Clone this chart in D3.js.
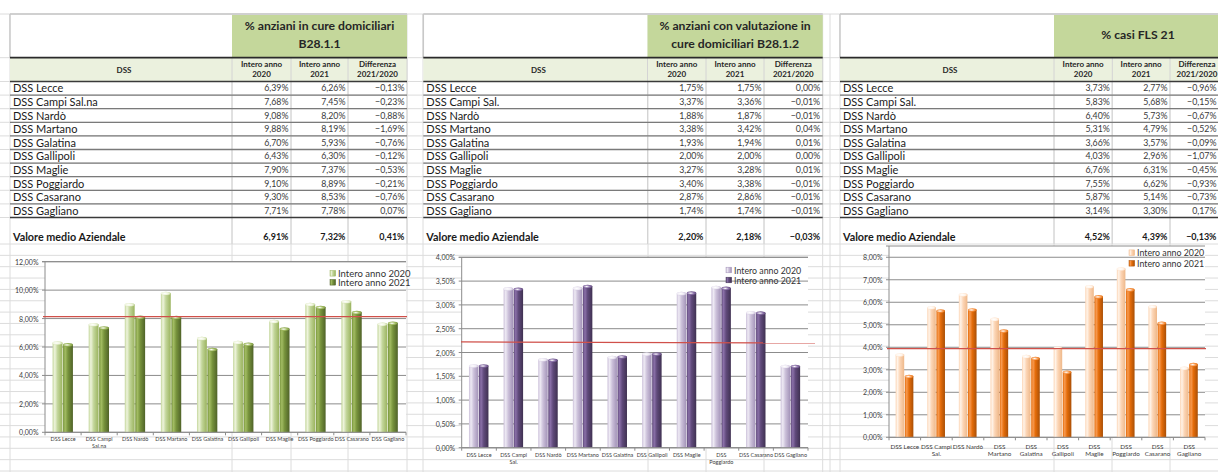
<!DOCTYPE html>
<html><head><meta charset="utf-8">
<script src="https://cdn.jsdelivr.net/npm/d3@7"></script>
<style>body{margin:0;background:#fff} svg{display:block;font-family:Lato,"Liberation Sans",sans-serif}</style>
</head><body><svg id="c" width="1218" height="472"></svg>
<script>
// ---------- DATA ----------
const categories1 = ["DSS Lecce","DSS Campi Sal.na","DSS Nardò","DSS Martano","DSS Galatina","DSS Gallipoli","DSS Maglie","DSS Poggiardo","DSS Casarano","DSS Gagliano"];
const categories2 = ["DSS Lecce","DSS Campi Sal.","DSS Nardò","DSS Martano","DSS Galatina","DSS Gallipoli","DSS Maglie","DSS Poggiardo","DSS Casarano","DSS Gagliano"];
const categories3 = categories2.slice();

const titles1 = ["% anziani in cure domiciliari","B28.1.1"];
const titles2 = ["% anziani con valutazione in","cure domiciliari B28.1.2"];
const titles3 = ["% casi FLS 21"];

const colHeaders = [["Intero anno","2020"],["Intero anno","2021"],["Differenza","2021/2020"]];
const seriesNames = ["Intero anno 2020","Intero anno 2021"];
const avgLabel = "Valore medio Aziendale";

const t1_2020 = [6.39,7.68,9.08,9.88,6.70,6.43,7.90,9.10,9.30,7.71];
const t1_2021 = [6.26,7.45,8.20,8.19,5.93,6.30,7.37,8.89,8.53,7.78];
const t1_diff = [-0.13,-0.23,-0.88,-1.69,-0.76,-0.12,-0.53,-0.21,-0.76,0.07];
const t1_avg  = [6.91,7.32,0.41];

const t2_2020 = [1.75,3.37,1.88,3.38,1.93,2.00,3.27,3.40,2.87,1.74];
const t2_2021 = [1.75,3.36,1.87,3.42,1.94,2.00,3.28,3.38,2.86,1.74];
const t2_diff = [0.00,-0.01,-0.01,0.04,0.01,0.00,0.01,-0.01,-0.01,-0.01];
const t2_avg  = [2.20,2.18,-0.03];

const t3_2020 = [3.73,5.83,6.40,5.31,3.66,4.03,6.76,7.55,5.87,3.14];
const t3_2021 = [2.77,5.68,5.73,4.79,3.57,2.96,6.31,6.62,5.14,3.30];
const t3_diff = [-0.96,-0.15,-0.67,-0.52,-0.09,-1.07,-0.45,-0.93,-0.73,0.17];
const t3_avg  = [4.52,4.39,-0.13];

const yTicks1 = [0,2,4,6,8,10,12];
const yTicks2 = [0,0.5,1,1.5,2,2.5,3,3.5,4];
const yTicks3 = [0,1,2,3,4,5,6,7,8];

const xLabels1 = [["DSS Lecce"],["DSS Campi","Sal.na"],["DSS Nardò"],["DSS Martano"],["DSS Galatina"],["DSS Gallipoli"],["DSS Maglie"],["DSS Poggiardo"],["DSS Casarano"],["DSS Gagliano"]];
const xLabels2 = [["DSS Lecce"],["DSS Campi","Sal."],["DSS Nardò"],["DSS Martano"],["DSS Galatina"],["DSS Gallipoli"],["DSS Maglie"],["DSS","Poggiardo"],["DSS Casarano"],["DSS Gagliano"]];
const xLabels3 = [["DSS Lecce"],["DSS Campi","Sal."],["DSS Nardò"],["DSS","Martano"],["DSS","Galatina"],["DSS","Gallipoli"],["DSS","Maglie"],["DSS","Poggiardo"],["DSS","Casarano"],["DSS","Gagliano"]];

const refLine1 = [8.14, 8.14];
const refLine2 = [2.222, 2.201];
const refLine3 = [3.94, 3.94];

// ---------- STYLE / LAYOUT ----------
const palettes = {
  green:  [{hi:"#eef4dc",base:"#c3d69b",dark:"#9ab35e"},{hi:"#a2bc62",base:"#77933c",dark:"#4f6228"}],
  purple: [{hi:"#eeeaf4",base:"#ccc1da",dark:"#a393b8"},{hi:"#8a70a8",base:"#604a7b",dark:"#3f3151"}],
  orange: [{hi:"#fff3e8",base:"#fcd5b5",dark:"#eeb88a"},{hi:"#f89a50",base:"#e46c0a",dark:"#a94f06"}]
};

const fmt = v => d3.format(".2f")(v).replace("-0.00","0.00").replace(".",",") + "%";
const fmtTick = v => d3.format(".2f")(v).replace(".",",") + "%";

const svg = d3.select("#c");
const defs = svg.append("defs");
svg.append("rect").attr("width",1218).attr("height",472).attr("fill","#fff");

// spreadsheet background grid
const rowTop = 81.5, rowH = 13.6;
const gridH = [14, 57.7];
for (let k=0;k<=10;k++) gridH.push(rowTop+rowH*k);
for (let y=244; y<472; y+=11.35) gridH.push(y);
const gridV = [10,232,291,348,407,423,648,706,764,822.7,830,840,1054,1112,1170];
svg.append("g").selectAll("line").data(gridH).join("line")
  .attr("x1",0).attr("x2",1218).attr("y1",d=>d).attr("y2",d=>d)
  .attr("stroke","#dcdcdc").attr("stroke-width",1);
svg.append("g").selectAll("line").data(gridV).join("line")
  .attr("x1",d=>d).attr("x2",d=>d).attr("y1",14).attr("y2",472)
  .attr("stroke","#dcdcdc").attr("stroke-width",1);

const panels = [
  {left:10, cols:[232,291,348,407], titles:titles1, titleY:[25,43], cats:categories1,
   v20:t1_2020, v21:t1_2021, diff:t1_diff, avg:t1_avg, pal:palettes.green,
   chart:{x0:45,x1:406,top:261.7,bottom:432.3,max:12,ticks:yTicks1,xl:xLabels1,ref:refLine1,refX:[43,407],
          legX:330,legY:[273.3,282.3],legFs:9.5,labY:439,xFs:5.5,labGap:7}},
  {left:423.3, cols:[647.5,706,764,822.7], titles:titles2, titleY:[25,43], cats:categories2,
   v20:t2_2020, v21:t2_2021, diff:t2_diff, avg:t2_avg, pal:palettes.purple,
   chart:{x0:461.7,x1:808,top:257.3,bottom:447.7,max:4,ticks:yTicks2,xl:xLabels2,ref:refLine2,refX:[461,815],
          legX:726,legY:[270,280],legFs:8.8,labY:455,xFs:5.5,labGap:7.3}},
  {left:840, cols:[1054,1112.3,1170,1228], titles:titles3, titleY:[34], cats:categories3,
   v20:t3_2020, v21:t3_2021, diff:t3_diff, avg:t3_avg, pal:palettes.orange,
   chart:{x0:889,x1:1205,top:246,bottom:437.3,max:8.5,ticks:yTicks3,xl:xLabels3,ref:refLine3,refX:[887,1206],
          legX:1129,legY:[252.7,263.3],legFs:8.8,labY:445.7,xFs:6.3,labGap:7.6}}
];

panels.forEach((p,pi)=>{
  const g = svg.append("g");
  const L = p.left, C = p.cols, R = C[3];
  const valRight = ci => Math.min(C[ci+1]-2.5, 1216.5);
  // header box
  g.append("rect").attr("x",L).attr("y",14).attr("width",C[0]-L).attr("height",43.7).attr("fill","#fff");
  g.append("rect").attr("x",C[0]).attr("y",15).attr("width",R-C[0]).attr("height",42.7).attr("fill","#c4d79b");
  g.append("line").attr("x1",L).attr("x2",R).attr("y1",14).attr("y2",14).attr("stroke","#d0d0d0").attr("stroke-width",2);
  g.append("line").attr("x1",L).attr("x2",L).attr("y1",14).attr("y2",58).attr("stroke","#c8c8c8").attr("stroke-width",1.5);
  const cx = (C[0]+R)/2 - (pi===2?3:0);
  g.selectAll("text.tt").data(p.titles).join("text").attr("class","tt")
    .attr("x",cx).attr("y",(d,i)=>p.titleY[i]).attr("text-anchor","middle").attr("dominant-baseline","central")
    .attr("font-size",12.2).attr("font-weight","bold").attr("fill","#262626").text(d=>d);
  // header row
  g.append("rect").attr("x",L).attr("y",57.7).attr("width",R-L).attr("height",rowTop-57.7).attr("fill","#ebf1de");
  g.append("text").attr("x",(L+C[0])/2+3).attr("y",69.5).attr("text-anchor","middle").attr("dominant-baseline","central")
    .attr("font-size",8).attr("font-weight","bold").attr("fill","#262626").text("DSS");
  colHeaders.forEach((h,ci)=>{
    const mx = Math.min((C[ci]+C[ci+1])/2, 1197);
    h.forEach((t,li)=>{
      g.append("text").attr("x",mx).attr("y",64+li*10.2).attr("text-anchor","middle").attr("dominant-baseline","central")
        .attr("font-size",8).attr("font-weight","bold").attr("fill","#262626").text(t);
    });
  });
  // column separators in data region
  [C[0],C[1],C[2],C[3]].forEach(x=>{
    g.append("line").attr("x1",x).attr("x2",x).attr("y1",57.7).attr("y2",244).attr("stroke","#d4d4d4");
  });
  // row separators
  for (let k=0;k<=10;k++){
    const dark = (k===0||k===10);
    g.append("line").attr("x1",L).attr("x2",R).attr("y1",rowTop+rowH*k).attr("y2",rowTop+rowH*k)
      .attr("stroke",dark?"#3a3a3a":"#7a7a7a").attr("stroke-width",dark?1.6:1.3);
  }
  g.append("line").attr("x1",L).attr("x2",R).attr("y1",57.7).attr("y2",57.7).attr("stroke","#2a2a2a").attr("stroke-width",1.8);
  // data rows
  p.cats.forEach((c,i)=>{
    const y = rowTop + rowH*i + 6.3;
    g.append("text").attr("x",L+3).attr("y",y).attr("dominant-baseline","central")
      .attr("font-size",11).attr("fill","#1a1a1a").text(c);
    [p.v20[i],p.v21[i],p.diff[i]].forEach((v,ci)=>{
      g.append("text").attr("x",valRight(ci)).attr("y",y).attr("text-anchor","end").attr("dominant-baseline","central")
        .attr("font-size",8.8).attr("fill","#3a3a3a").text(fmt(v));
    });
  });
  // average row
  g.append("text").attr("x",L+3).attr("y",236).attr("dominant-baseline","central")
    .attr("font-size",10.8).attr("font-weight","bold").attr("fill","#1a1a1a").text(avgLabel);
  p.avg.forEach((v,ci)=>{
    g.append("text").attr("x",valRight(ci)).attr("y",236).attr("text-anchor","end").attr("dominant-baseline","central")
      .attr("font-size",9).attr("font-weight","bold").attr("fill","#1a1a1a").text(fmt(v));
  });

  // ---------- CHART ----------
  const ch = p.chart;
  const y = d3.scaleLinear().domain([0,ch.max]).range([ch.bottom,ch.top]);
  const x = d3.scaleBand().domain(p.cats).range([ch.x0,ch.x1]).paddingInner(0.42).paddingOuter(0.21);
  const xs = d3.scaleBand().domain(["2020","2021"]).range([0,x.bandwidth()]);
  const cg = svg.append("g");
  cg.append("rect").attr("x",ch.x0).attr("y",ch.top).attr("width",ch.x1-ch.x0).attr("height",ch.bottom-ch.top).attr("fill","#fff");
  // gridlines
  cg.selectAll("line.gl").data(ch.ticks.concat([ch.max])).join("line").attr("class","gl")
    .attr("x1",ch.x0-3).attr("x2",ch.x1).attr("y1",d=>y(d)).attr("y2",d=>y(d))
    .attr("stroke","#8c8c8c").attr("stroke-width",1);
  // y axis
  cg.append("line").attr("x1",ch.x0).attr("x2",ch.x0).attr("y1",ch.top).attr("y2",ch.bottom).attr("stroke","#8c8c8c");
  cg.selectAll("text.yl").data(ch.ticks).join("text").attr("class","yl")
    .attr("x",ch.x0-6.5).attr("y",d=>y(d)).attr("text-anchor","end").attr("dominant-baseline","central")
    .attr("font-size",7).attr("fill","#404040").text(fmtTick);
  // x ticks
  const bounds = d3.range(p.cats.length+1).map(i=>ch.x0 + i*(ch.x1-ch.x0)/p.cats.length);
  cg.selectAll("line.xt").data(bounds).join("line").attr("class","xt")
    .attr("x1",d=>d).attr("x2",d=>d).attr("y1",ch.bottom).attr("y2",ch.bottom+3).attr("stroke","#8c8c8c");
  // gradients
  p.pal.forEach((c,si)=>{
    const id = "g"+pi+"_"+si;
    const lg = defs.append("linearGradient").attr("id",id).attr("x1","0").attr("x2","1").attr("y1","0").attr("y2","0");
    [[0,c.base],[0.22,c.hi],[0.5,c.base],[1,c.dark]].forEach(s=>lg.append("stop").attr("offset",s[0]).attr("stop-color",s[1]));
    const rg = defs.append("radialGradient").attr("id","cap"+id).attr("cx","0.4").attr("cy","0.5").attr("r","0.6");
    [[0,"#ffffff"],[0.6,c.hi],[1,c.base]].forEach(s=>rg.append("stop").attr("offset",s[0]).attr("stop-color",s[1]));
  });
  const series = [p.v20,p.v21];
  series.forEach((vals,si)=>{
    const key = si===0?"2020":"2021";
    const bw = xs.bandwidth()-0.6;
    const bg = cg.append("g");
    bg.selectAll("rect").data(vals).join("rect")
      .attr("x",(d,i)=>x(p.cats[i])+xs(key)).attr("y",d=>y(d)+1.2)
      .attr("width",bw).attr("height",d=>ch.bottom-y(d)-1.2)
      .attr("fill",`url(#g${pi}_${si})`);
    bg.selectAll("ellipse").data(vals).join("ellipse")
      .attr("cx",(d,i)=>x(p.cats[i])+xs(key)+bw/2).attr("cy",d=>y(d)+1.6)
      .attr("rx",bw/2).attr("ry",1.8).attr("fill",`url(#capg${pi}_${si})`);
  });
  // axis line at bottom
  cg.append("line").attr("x1",ch.x0).attr("x2",ch.x1).attr("y1",ch.bottom).attr("y2",ch.bottom).attr("stroke","#8c8c8c");
  // reference line
  cg.append("line").attr("x1",ch.refX[0]).attr("x2",ch.refX[1]).attr("y1",y(ch.ref[0])).attr("y2",y(ch.ref[1]))
    .attr("stroke","#d0504a").attr("stroke-width",1.2);
  // x labels
  ch.xl.forEach((lines,i)=>{
    const t = cg.append("text").attr("x",x(p.cats[i])+x.bandwidth()/2).attr("y",ch.labY)
      .attr("text-anchor","middle").attr("dominant-baseline","central").attr("font-size",ch.xFs).attr("fill","#404040");
    lines.forEach((l,li)=>t.append("tspan").attr("x",x(p.cats[i])+x.bandwidth()/2).attr("y",ch.labY+li*ch.labGap).text(l));
  });
  // legend
  seriesNames.forEach((n,si)=>{
    const ly = ch.legY[si];
    cg.append("rect").attr("x",ch.legX).attr("y",ly-2.8).attr("width",5.6).attr("height",5.6)
      .attr("fill",`url(#g${pi}_${si})`).attr("stroke",p.pal[si].dark).attr("stroke-width",0.5);
    cg.append("text").attr("x",ch.legX+8).attr("y",ly).attr("dominant-baseline","central")
      .attr("font-size",ch.legFs).attr("fill","#333").text(n);
  });
});
</script></body></html>
